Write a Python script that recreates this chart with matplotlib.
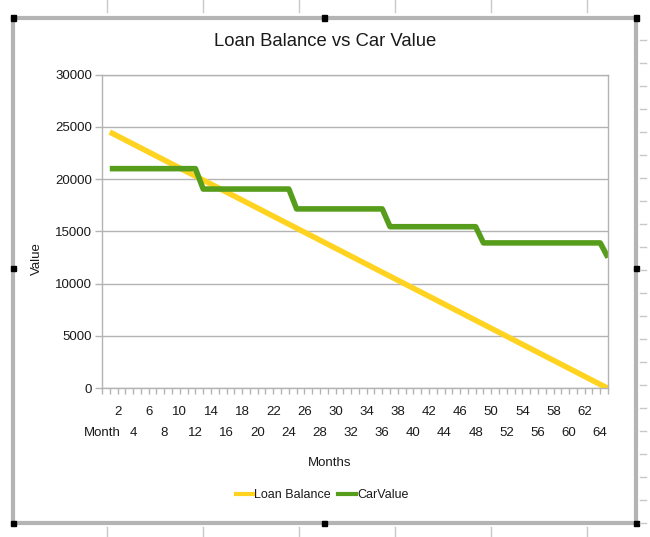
import matplotlib.pyplot as plt
from matplotlib.lines import Line2D
from matplotlib.patches import Rectangle

plt.rcParams['font.family'] = ['Liberation Sans', 'DejaVu Sans']

# category axis: header cell "Month" followed by the month numbers
categories = ['Month'] + [str(m) for m in range(1, 66)]
months = list(range(1, 66))

loan_balance = [24500, 24117, 23734, 23351, 22968, 22585, 22202, 21819, 21436, 21053,
                20670, 20287, 19904, 19521, 19138, 18755, 18372, 17989, 17606, 17223,
                16840, 16457, 16074, 15691, 15308, 14925, 14542, 14159, 13776, 13393,
                13010, 12627, 12244, 11861, 11478, 11095, 10712, 10329, 9946, 9563,
                9180, 8797, 8414, 8031, 7648, 7265, 6882, 6499, 6116, 5733,
                5350, 4967, 4584, 4201, 3818, 3435, 3052, 2669, 2286, 1903,
                1520, 1137, 754, 371, 0]

car_value = ([21000] * 12 + [19050] * 12 + [17150] * 12 + [15450] * 12
             + [13900] * 16 + [12500])

yellow = '#FFD320'
green = '#579D1C'
grid_col = '#b3b3b3'
text_col = '#1a1a1a'

W, H = 650, 537
fig = plt.figure(figsize=(W / 100, H / 100), dpi=100)
fig.patch.set_facecolor('white')

# plot area in pixels
left, right, top, bottom = 102, 608, 74.5, 388.3
ax = fig.add_axes([left / W, 1 - bottom / H, (right - left) / W, (bottom - top) / H])

ax.plot(months, loan_balance, color=yellow, lw=4, solid_capstyle='butt', label='Loan Balance')
ax.plot(months, car_value, color=green, lw=4, solid_capstyle='butt', label='CarValue')

ax.set_xlim(0, len(categories) - 1)
ax.set_ylim(0, 30000)
ax.set_yticks(range(0, 30001, 5000))
ax.yaxis.grid(True, color=grid_col, lw=1)
ax.set_axisbelow(True)
for s in ax.spines.values():
    s.set_color(grid_col)
    s.set_linewidth(1)

ax.tick_params(axis='y', colors=grid_col, labelcolor=text_col, labelsize=9.5,
               length=5, width=1, pad=2)

# every category gets a tick, every second one a label, staggered in two rows
ax.set_xticks(range(len(categories)))
ax.set_xticklabels([c if i % 2 == 0 else '' for i, c in enumerate(categories)])
ax.tick_params(axis='x', colors=grid_col, labelcolor=text_col, labelsize=9.5,
               length=4, width=1)
for i, t in enumerate(ax.xaxis.get_major_ticks()):
    if i % 4 == 0:
        t.set_pad(24)
    else:
        t.set_pad(8.5)

ax.set_ylabel('Value', fontsize=9.5, color=text_col)
ax.yaxis.set_label_coords(-0.1166, 0.415)
ax.set_xlabel('Months', fontsize=9.5, color=text_col)
ax.xaxis.set_label_coords(0.45, -0.219)

fig.text(325 / W, 1 - 42 / H, 'Loan Balance vs Car Value', fontsize=13.3,
         color=text_col, ha='center', va='center')

handles = [Line2D([], [], color=yellow, lw=3), Line2D([], [], color=green, lw=3)]
fig.legend(handles, ['Loan Balance', 'CarValue'], loc='center', ncol=2,
           bbox_to_anchor=(322 / W, 1 - 495 / H), frameon=False, fontsize=9,
           handlelength=1.4, handletextpad=0.1, columnspacing=0.6,
           labelcolor=text_col)

# spreadsheet around the chart: column headers, selection frame, row marks
def px(x, y):
    return x / W, 1 - y / H

for cx in [107, 203, 299, 395, 491, 587]:
    fig.add_artist(Line2D(*zip(px(cx, 0), px(cx, 12)), color='#c8c8c8', lw=1))
    fig.add_artist(Line2D(*zip(px(cx, 527), px(cx, 537)), color='#c8c8c8', lw=1))
for ry in range(40, 537, 23):
    fig.add_artist(Line2D(*zip(px(640, ry), px(646, ry)), color='#c8c8c8', lw=1))

fl, ft, fr, fb = 13, 18, 636, 523
fig.add_artist(Rectangle(px(fl, fb), (fr - fl) / W, (fb - ft) / H, fill=False,
                         edgecolor='#b4b4b4', lw=3, transform=fig.transFigure))
for hx, hy in [(fl, ft), (324, ft), (fr, ft), (fl, 268), (fr, 268),
               (fl, fb), (324, fb), (fr, fb)]:
    fig.add_artist(Rectangle(px(hx - 2.5, hy + 2.5), 5 / W, 5 / H, color='black',
                             transform=fig.transFigure))

fig.savefig('out.png', dpi=100)
